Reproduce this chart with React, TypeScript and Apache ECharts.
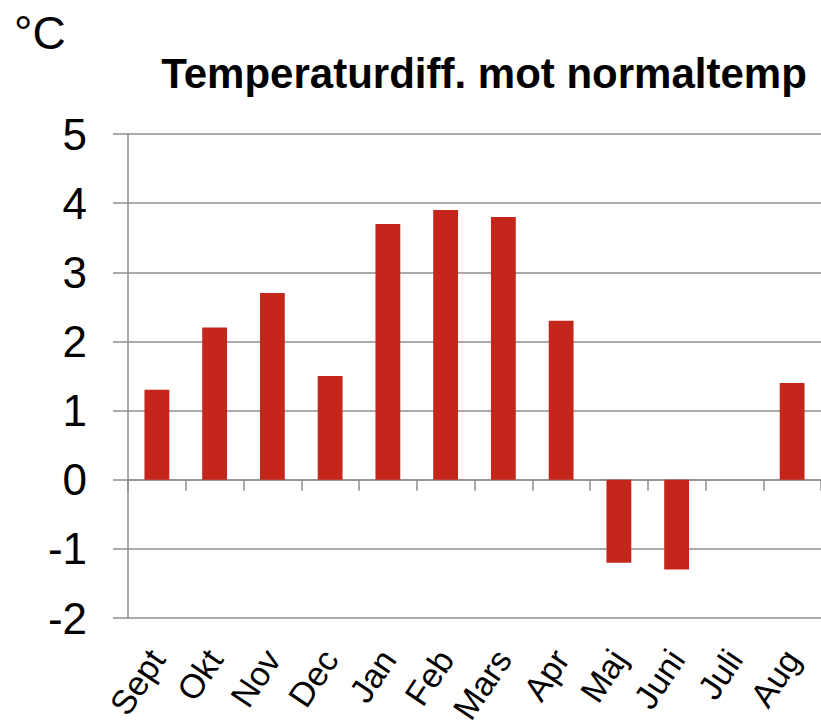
import React, { useEffect, useRef } from "react";
import * as echarts from "echarts";

const months = ["Sept", "Okt", "Nov", "Dec", "Jan", "Feb", "Mars", "Apr", "Maj", "Juni", "Juli", "Aug"];
const tempDiff = [1.3, 2.2, 2.7, 1.5, 3.7, 3.9, 3.8, 2.3, -1.2, -1.3, 0, 1.4];
const yMin = -2;
const yMax = 5;
const yStep = 1;
const titleText = "Temperaturdiff. mot normaltemp";
const unitText = "°C";

const FONT = "'Liberation Sans', Arial, sans-serif";
const GRAY = "#8e8e8e";

export default function App() {
  const ref = useRef<HTMLDivElement>(null);
  useEffect(() => {
    if (!ref.current) return;
    const chart = echarts.init(ref.current, undefined, { renderer: "svg" });
    chart.setOption({
      animation: false,
      backgroundColor: "#ffffff",
      grid: {
        left: 128,
        right: 0,
        top: 134,
        bottom: 109,
        containLabel: false,
        outerBoundsMode: "none",
      },
      graphic: [
        {
          type: "text",
          left: 14,
          top: 10,
          style: { text: unitText, font: `46px ${FONT}`, fill: "#000" },
        },
        {
          type: "text",
          x: 484,
          y: 73,
          style: {
            text: titleText,
            font: `bold 42px ${FONT}`,
            fill: "#000",
            textAlign: "center",
            textVerticalAlign: "middle",
          },
        },
      ],
      xAxis: [
        {
          type: "category",
          data: months,
          position: "bottom",
          axisLine: { show: false, onZero: false },
          axisTick: { show: false },
          splitLine: { show: false },
          axisLabel: {
            interval: 0,
            rotate: 56,
            margin: 35,
            align: "right",
            verticalAlign: "middle",
            fontSize: 34,
            fontFamily: FONT,
            color: "#000",
          },
        },
        {
          type: "category",
          data: months,
          position: "top",
          axisLine: { show: true, onZero: true, lineStyle: { color: GRAY, width: 1.5 } },
          axisTick: { show: true, inside: true, length: 11, lineStyle: { color: GRAY, width: 1.5 } },
          axisLabel: { show: false },
          splitLine: { show: false },
        },
      ],
      yAxis: {
        type: "value",
        min: yMin,
        max: yMax,
        interval: yStep,
        axisLine: { show: true, lineStyle: { color: GRAY, width: 1.5 } },
        axisTick: { show: true, length: 15, lineStyle: { color: GRAY, width: 1.5 } },
        splitLine: { show: true, lineStyle: { color: GRAY, width: 1.5 } },
        axisLabel: {
          margin: 41,
          fontSize: 44,
          fontFamily: FONT,
          color: "#000",
        },
      },
      series: [
        {
          type: "bar",
          xAxisIndex: 0,
          data: tempDiff,
          barWidth: "43%",
          itemStyle: { color: "#c5261b" },
        },
      ],
    });
    return () => chart.dispose();
  }, []);
  return (
    <div
      ref={ref}
      style={{ position: "fixed", left: 0, top: 0, width: 821, height: 727 }}
    />
  );
}
